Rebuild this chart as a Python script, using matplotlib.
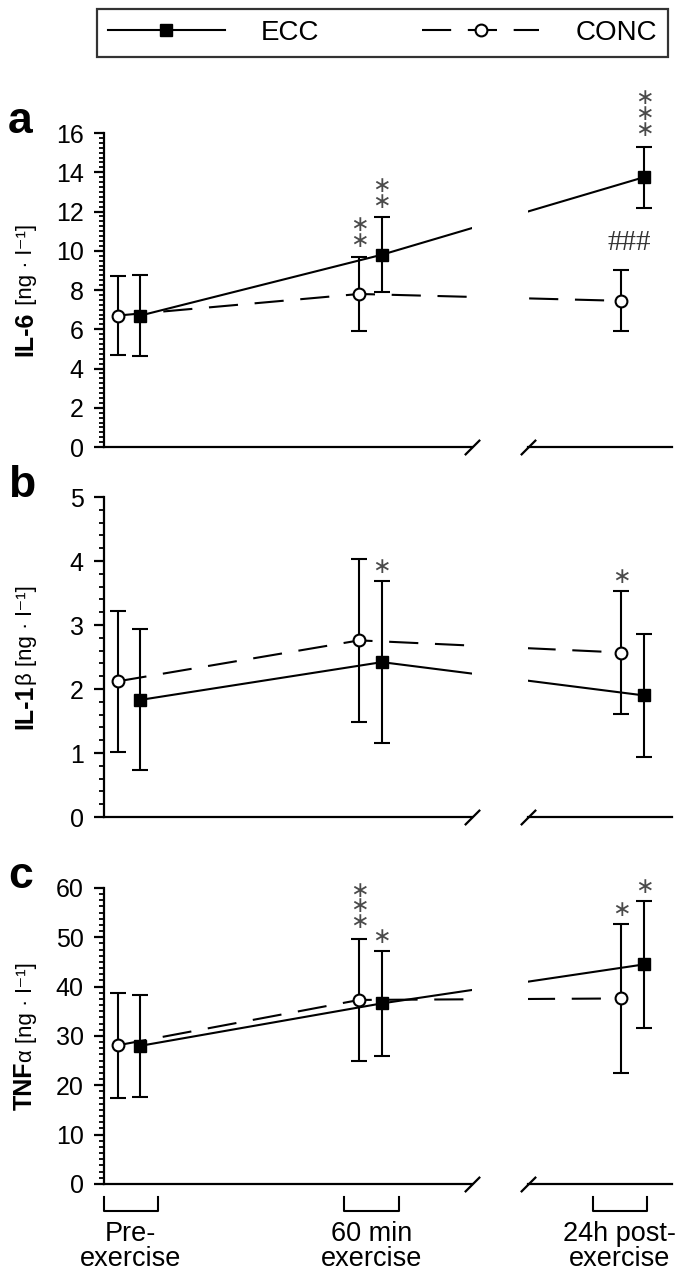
import numpy as np
import matplotlib.pyplot as plt
import matplotlib.transforms as mtransforms
from matplotlib.ticker import MultipleLocator
from matplotlib.lines import Line2D

plt.rcParams['font.family'] = ['Liberation Sans', 'DejaVu Sans']
plt.rcParams['lines.scale_dashes'] = False

times = ['Pre-\nexercise', '60 min\nexercise', '24h post-\nexercise']

# IL-6 [ng/l]
il6_ecc = [6.7, 9.8, 13.75]
il6_ecc_sd = [2.05, 1.9, 1.55]
il6_conc = [6.7, 7.8, 7.45]
il6_conc_sd = [2.0, 1.9, 1.55]

# IL-1beta [ng/l]
il1_ecc = [1.83, 2.42, 1.90]
il1_ecc_sd = [1.1, 1.27, 0.96]
il1_conc = [2.12, 2.76, 2.57]
il1_conc_sd = [1.1, 1.27, 0.96]

# TNF-alpha [ng/l]
tnf_ecc = [28.0, 36.6, 44.5]
tnf_ecc_sd = [10.4, 10.6, 12.8]
tnf_conc = [28.1, 37.3, 37.6]
tnf_conc_sd = [10.6, 12.3, 15.1]

# significance marks: (group, time index, number of stars)
il6_marks = [('conc', 1, 2), ('ecc', 1, 2), ('ecc', 2, 3)]
il1_marks = [('ecc', 1, 1), ('conc', 2, 1)]
tnf_marks = [('conc', 1, 3), ('ecc', 1, 1), ('conc', 2, 1), ('ecc', 2, 1)]

# layout
x_grp = np.array([0, 1, 2.085])
off = 0.047
gap_l, gap_r = 1.42, 1.65
xlim = (-0.1035, 2.248)
dash = (0, (21, 12))
lw = 1.5

fig = plt.figure(figsize=(6.86, 12.78), dpi=100)
left, width = 104 / 686, 568 / 686
ax_a = fig.add_axes([left, 0.6502, width, 0.2457])
ax_b = fig.add_axes([left, 0.3607, width, 0.2504])
ax_c = fig.add_axes([left, 0.0736, width, 0.2316])

panels = [
    (ax_a, 'a', 'IL-6', ' [ng · l⁻¹]', il6_ecc, il6_ecc_sd, il6_conc, il6_conc_sd, 16, 2, 0.25, il6_marks),
    (ax_b, 'b', 'IL-1', 'β [ng · l⁻¹]', il1_ecc, il1_ecc_sd, il1_conc, il1_conc_sd, 5, 1, 0.2, il1_marks),
    (ax_c, 'c', 'TNF', 'α [ng · l⁻¹]', tnf_ecc, tnf_ecc_sd, tnf_conc, tnf_conc_sd, 60, 10, 1.25, tnf_marks),
]

labels = []
for ax, letter, bold, rest, ecc, ecc_sd, conc, conc_sd, ymax, major, minor, marks in panels:
    xe = x_grp + off
    xc = x_grp - off
    ax.errorbar(xc, conc, yerr=conc_sd, fmt='none', ecolor='k', elinewidth=lw,
                capsize=6, capthick=lw, zorder=2)
    ax.errorbar(xe, ecc, yerr=ecc_sd, fmt='none', ecolor='k', elinewidth=lw,
                capsize=6, capthick=lw, zorder=2)
    ax.plot(xc, conc, color='k', lw=lw, linestyle=dash, zorder=2)
    ax.plot(xe, ecc, color='k', lw=lw, zorder=2)
    ax.axvspan(gap_l, gap_r, color='white', zorder=3, lw=0)
    ax.plot(xc, conc, ls='none', marker='o', ms=8.5, mfc='white', mec='k', mew=lw, zorder=4)
    ax.plot(xe, ecc, ls='none', marker='s', ms=8.5, color='k', zorder=4)

    ax.set_xlim(*xlim)
    ax.set_ylim(0, ymax)
    ax.yaxis.set_major_locator(MultipleLocator(major))
    ax.yaxis.set_minor_locator(MultipleLocator(minor))
    ax.tick_params(axis='y', which='major', length=7.5, width=1.6, labelsize=18, pad=7)
    ax.tick_params(axis='y', which='minor', length=3.8, width=1.3)
    ax.set_xticks([])
    for s in ['top', 'right', 'bottom']:
        ax.spines[s].set_visible(False)
    ax.spines['left'].set_linewidth(1.6)

    # broken x axis
    ax.plot([xlim[0], gap_l], [0, 0], color='k', lw=1.6, clip_on=False, zorder=5)
    ax.plot([gap_r, xlim[1]], [0, 0], color='k', lw=1.6, clip_on=False, zorder=5)
    ax.plot([gap_l, gap_r], [0, 0], ls='none', marker=[(-1, -1), (1, 1)], ms=11,
            mew=1.6, color='k', clip_on=False, zorder=5)

    # asterisks, stacked in one text
    for grp, i, n in marks:
        x = xe[i] if grp == 'ecc' else xc[i]
        top = (ecc[i] + ecc_sd[i]) if grp == 'ecc' else (conc[i] + conc_sd[i])
        ax.annotate('\n'.join(['∗'] * n), xy=(x, top), xytext=(0, 10 + 13.7 * (n - 1) / 2),
                    textcoords='offset points', ha='center', va='center', fontsize=16,
                    linespacing=0.73, color='#4a4a4a', family='DejaVu Sans',
                    annotation_clip=False)

    tr_l = mtransforms.blended_transform_factory(fig.transFigure, ax.transAxes)
    fig.text(8 / 686, 1.0, letter, fontsize=32, fontweight='bold', va='baseline', transform=tr_l)

    t1 = ax.text(32 / 686, 0.5, bold, rotation=90, rotation_mode='anchor', ha='left',
                 va='baseline', fontsize=18, fontweight='bold', transform=tr_l)
    t2 = ax.text(32 / 686, 0.5, rest, rotation=90, rotation_mode='anchor', ha='left',
                 va='baseline', fontsize=16, transform=tr_l)
    labels.append((ax, t1, t2))

# "###" above CONC 24h
ax_a.annotate('###', xy=(x_grp[2] - off, il6_conc[2] + il6_conc_sd[2]), xytext=(6, 20),
              textcoords='offset points', ha='center', va='center', fontsize=21,
              family='Liberation Serif', color='#333333', annotation_clip=False)

# time labels and brackets under panel c
br_c = [0.008, 1.004, 2.031]
br_w = 0.112
xt = ax_c.get_xaxis_transform()
for cx, lab in zip(br_c, times):
    ax_c.plot([cx - br_w, cx - br_w, cx + br_w, cx + br_w], [-0.044, -0.092, -0.092, -0.044],
              color='k', lw=lw, transform=xt, clip_on=False)
    ax_c.annotate(lab, xy=(cx, 0), xycoords=xt, xytext=(0, -27), textcoords='offset points',
                  ha='center', va='top', fontsize=19.5, linespacing=0.95)

# legend
h_ecc = Line2D([], [], color='k', lw=lw, marker='s', ms=8.5)
h_conc = Line2D([], [], color='k', lw=lw, linestyle=dash, marker='o', ms=8.5, mfc='white', mew=lw)
leg = fig.legend([h_ecc, h_conc], ['ECC', 'CONC'], loc='lower left',
                 bbox_to_anchor=(97 / 686, 1 - 57 / 1278, 571 / 686, 49 / 1278),
                 mode='expand', ncol=2, frameon=True, fancybox=False, edgecolor='k',
                 fontsize=20, handlelength=4.2, handletextpad=1.3, numpoints=1,
                 borderaxespad=0, borderpad=0.4)
leg.get_frame().set_linewidth(1.6)

# center the two-part y labels on each axis
fig.canvas.draw()
r = fig.canvas.get_renderer()
for ax, t1, t2 in labels:
    h1 = t1.get_window_extent(r).height
    h2 = t2.get_window_extent(r).height
    axh = ax.bbox.height
    y0 = 0.5 - (h1 + h2) / 2 / axh
    t1.set_y(y0)
    t2.set_y(y0 + h1 / axh)

fig.savefig('out.png', dpi=100)
